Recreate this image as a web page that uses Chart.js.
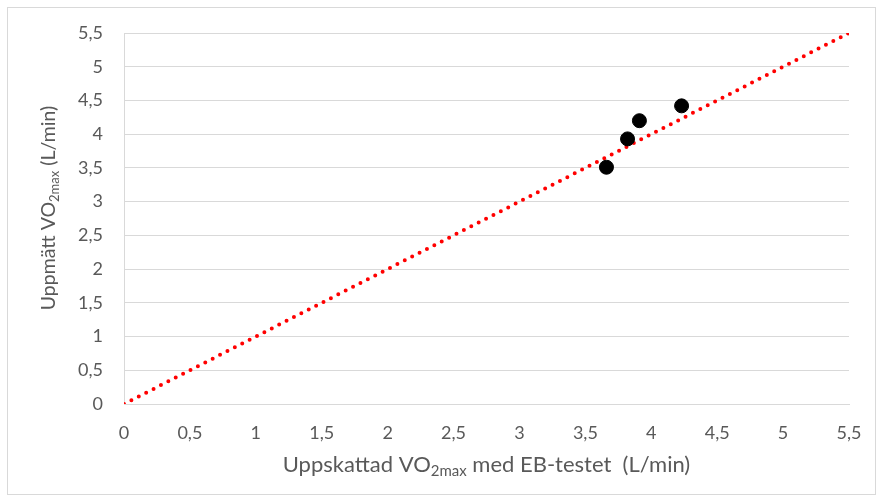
<!DOCTYPE html>
<html>
<head>
<meta charset="utf-8">
<script src="https://cdn.jsdelivr.net/npm/chart.js@4.4.1/dist/chart.umd.min.js"></script>
<style>
  html, body { margin: 0; padding: 0; background: #fff; }
  #wrap { width: 882px; height: 501px; position: relative; }
</style>
</head>
<body>
<div id="wrap"><canvas id="myChart" width="882" height="501"></canvas></div>
<script>
/* data */
const estimated = [3.66, 3.82, 3.91, 4.23];   // Uppskattad VO2max (L/min)
const measured = [3.51, 3.93, 4.20, 4.42];    // Uppmätt VO2max (L/min)
const lineX = [0, 5.5];                        // identity line
const lineY = [0, 5.5];
const axisMin = 0;
const axisMax = 5.5;
const axisStep = 0.5;

const xTitle = [['Uppskattad VO', false], ['2max', true], [' med EB-testet  (L/min)', false]];
const yTitle = [['Uppmätt VO', false], ['2max', true], [' (L/min)', false]];

const FONT = 'Lato, "Open Sans", sans-serif';
const GREY = '#595959';

function commaLabel(v) {
    return String(Math.round(v * 10) / 10).replace('.', ',');
}

// draws a title with subscript parts, centred at (cx, cy)
function drawTitle(ctx, parts, cx, cy, angle, size) {
    const sub = Math.round(size * 0.66);
    ctx.save();
    ctx.translate(cx, cy);
    ctx.rotate(angle);
    ctx.fillStyle = GREY;
    ctx.textBaseline = 'alphabetic';
    ctx.textAlign = 'left';
    let total = 0;
    parts.forEach(p => {
        ctx.font = (p[1] ? sub : size) + 'px ' + FONT;
        total += ctx.measureText(p[0]).width;
    });
    let x = -total / 2;
    parts.forEach(p => {
        ctx.font = (p[1] ? sub : size) + 'px ' + FONT;
        ctx.fillText(p[0], x, p[1] ? 11 : 7);
        x += ctx.measureText(p[0]).width;
    });
    ctx.restore();
}

const framePlugin = {
    id: 'frame',
    beforeDraw(chart) {
        const c = chart.ctx;
        c.save();
        c.fillStyle = '#fff';
        c.fillRect(0, 0, chart.width, chart.height);
        c.strokeStyle = '#d9d9d9';
        c.lineWidth = 1;
        c.strokeRect(7.5, 7.5, 868, 487);
        c.restore();
    },
    afterDraw(chart) {
        const a = chart.chartArea;
        drawTitle(chart.ctx, xTitle, (a.left + a.right) / 2, 465, 0, 22);
        drawTitle(chart.ctx, yTitle, 48, 208, -Math.PI / 2, 19.5);
    }
};

const ctx = document.getElementById('myChart').getContext('2d');
const myChart = new Chart(ctx, {
    type: 'scatter',
    data: {
        datasets: [{
            label: 'Mätningar',
            data: estimated.map((x, i) => ({ x: x, y: measured[i] })),
            backgroundColor: '#000',
            borderColor: '#000',
            pointRadius: 7,
            pointHoverRadius: 7,
            order: 0
        }, {
            label: 'Identitetslinje',
            type: 'line',
            data: lineX.map((x, i) => ({ x: x, y: lineY[i] })),
            borderColor: '#ff0000',
            borderWidth: 4,
            borderDash: [0, 8.3],
            borderCapStyle: 'round',
            pointRadius: 0,
            fill: false,
            order: 1
        }]
    },
    options: {
        responsive: false,
        animation: false,
        layout: { padding: { left: 0, right: 33, top: 33, bottom: 0 } },
        plugins: {
            legend: { display: false },
            tooltip: { enabled: false }
        },
        scales: {
            x: {
                type: 'linear',
                min: axisMin,
                max: axisMax,
                grid: { display: false },
                border: { display: true, color: '#d9d9d9', width: 1 },
                ticks: {
                    stepSize: axisStep,
                    color: GREY,
                    padding: 10,
                    maxRotation: 0,
                    font: { family: FONT, size: 18 },
                    callback: v => commaLabel(v)
                },
                afterFit: s => { s.height = 97; }
            },
            y: {
                type: 'linear',
                min: axisMin,
                max: axisMax,
                grid: { color: '#d9d9d9', drawTicks: false },
                border: { display: true, color: '#d9d9d9', width: 1 },
                ticks: {
                    stepSize: axisStep,
                    color: GREY,
                    padding: 21,
                    font: { family: FONT, size: 18 },
                    callback: v => commaLabel(v)
                },
                afterFit: s => { s.width = 124; }
            }
        }
    },
    plugins: [framePlugin]
});
</script>
</body>
</html>
